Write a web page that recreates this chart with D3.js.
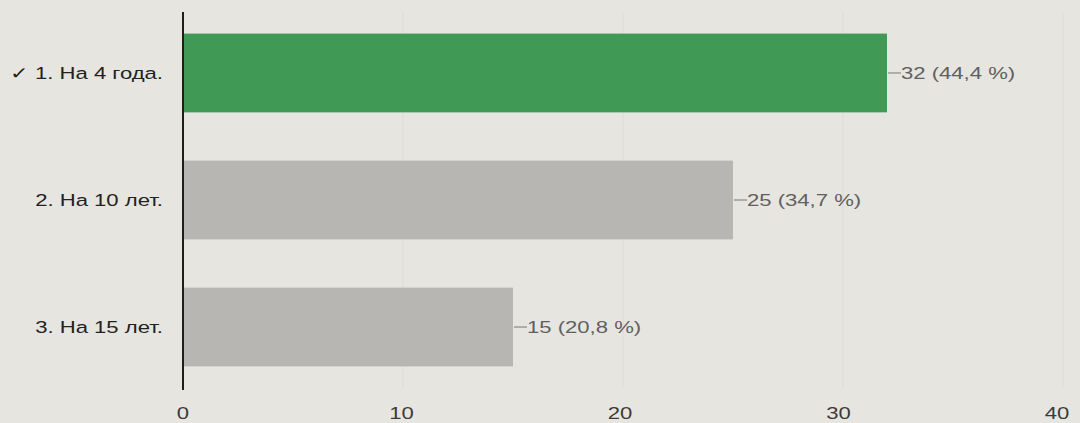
<!DOCTYPE html>
<html>
<head>
<meta charset="utf-8">
<script src="https://cdn.jsdelivr.net/npm/d3@7"></script>
<style>
  body { margin: 0; background: #e7e5e0; }
  svg { display: block; font-family: "Liberation Sans", Arial, sans-serif; }
</style>
</head>
<body>
<div id="chart"></div>
<script>
"use strict";

// answers, counts, percent labels
const answers = ["\u2713 1. На 4 года.", "2. На 10 лет.", "3. На 15 лет."];
const counts = [32, 25, 15];
const percents = ["44,4 %", "34,7 %", "20,8 %"];
const correct = [true, false, false];
const xTicks = [0, 10, 20, 30, 40];

const width = 1080;
const height = 423;
const margin = ({top: 12, right: 17, bottom: 35, left: 183});
const stretch = 1.3;  // the photo is wider than it is tall

const x = d3.scaleLinear()
    .domain([0, 40])
    .range([margin.left, width - margin.right]);

const y = d3.scaleBand()
    .domain(answers)
    .range([margin.top, height - margin.bottom])
    .paddingInner(0.38)
    .paddingOuter(0.17);

const svg = d3.select("#chart").append("svg")
    .attr("width", width)
    .attr("height", height);

// faint vertical grid
svg.append("g")
    .selectAll("line")
    .data(xTicks.slice(1))
    .join("line")
        .attr("x1", d => x(d))
        .attr("x2", d => x(d))
        .attr("y1", margin.top)
        .attr("y2", height - margin.bottom)
        .attr("stroke", "#dedcd7")
        .attr("stroke-width", 1);

// bars
svg.append("g")
    .selectAll("rect")
    .data(counts)
    .join("rect")
        .attr("x", x(0))
        .attr("y", (d, i) => y(answers[i]))
        .attr("width", d => x(d) - x(0))
        .attr("height", y.bandwidth())
        .attr("fill", (d, i) => correct[i] ? "#409a56" : "#b8b6b3");

// value labels with leader dash
const val = svg.append("g")
    .selectAll("g")
    .data(counts)
    .join("g")
        .attr("transform", (d, i) => `translate(${x(d)},${y(answers[i]) + y.bandwidth() / 2})`);

val.append("line")
    .attr("x1", 1)
    .attr("x2", 14)
    .attr("stroke", "#777")
    .attr("stroke-width", 1);

val.append("text")
    .attr("transform", `translate(14,0) scale(${stretch},1)`)
    .attr("dy", "0.35em")
    .attr("fill", "#606060")
    .style("font-size", "17px")
    .text((d, i) => `${d} (${percents[i]})`);

// category labels
svg.append("g")
    .selectAll("text")
    .data(answers)
    .join("text")
        .attr("transform", d => `translate(${margin.left - 20},${y(d) + y.bandwidth() / 2}) scale(${stretch},1)`)
        .attr("dy", "0.35em")
        .attr("text-anchor", "end")
        .attr("fill", "#222")
        .style("font-size", "17px")
        .text(d => d);

// axis line
svg.append("line")
    .attr("x1", x(0))
    .attr("x2", x(0))
    .attr("y1", margin.top)
    .attr("y2", height - margin.bottom + 2)
    .attr("stroke", "#1e1e1e")
    .attr("stroke-width", 2);

// bottom tick labels
svg.append("g")
    .selectAll("text")
    .data(xTicks)
    .join("text")
        .attr("transform", d => `translate(${x(d) - d * 0.15},${height - 4}) scale(${stretch},1)`)
        .attr("text-anchor", "middle")
        .attr("fill", "#3a3a3a")
        .style("font-size", "17px")
        .text(d => d);
</script>
</body>
</html>
